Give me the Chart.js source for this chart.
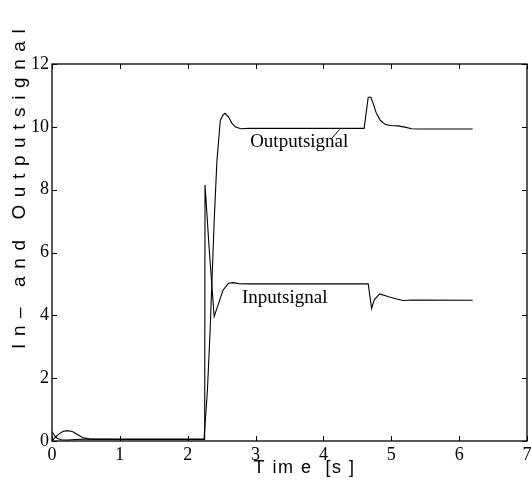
<!DOCTYPE html>
<html>
<head>
<meta charset="utf-8">
<script src="https://cdn.jsdelivr.net/npm/chart.js@4/dist/chart.umd.min.js"></script>
<style>
  html, body { margin: 0; padding: 0; background: #fff; }
  canvas { display: block; }
</style>
</head>
<body>
<canvas id="c" width="531" height="484"></canvas>
<script>
// ---- data ----
const inputTime  = [0, 0.04, 0.08, 0.14, 0.22, 0.35, 0.5, 1.0, 2.0, 2.25, 2.255, 2.32, 2.39, 2.45, 2.52, 2.60, 2.67, 2.75, 2.9, 3.5, 4.66, 4.685, 4.71, 4.75, 4.83, 4.96, 5.08, 5.18, 5.3, 6.2];
const inputValue = [0.30, 0.16, 0.08, 0.04, 0.03, 0.05, 0.06, 0.06, 0.06, 0.06, 8.15, 6.0, 3.96, 4.35, 4.8, 5.02, 5.04, 5.01, 5.0, 5.0, 5.0, 4.6, 4.22, 4.5, 4.68, 4.59, 4.52, 4.47, 4.49, 4.48];

const outputTime  = [0, 0.05, 0.1, 0.16, 0.22, 0.3, 0.38, 0.45, 0.55, 1.0, 2.0, 2.24, 2.29, 2.33, 2.39, 2.43, 2.48, 2.52, 2.55, 2.6, 2.65, 2.7, 2.78, 2.9, 4.6, 4.66, 4.7, 4.74, 4.78, 4.84, 4.91, 4.98, 5.1, 5.2, 5.3, 5.4, 6.2];
const outputValue = [0.0, 0.12, 0.22, 0.30, 0.33, 0.30, 0.20, 0.11, 0.06, 0.05, 0.05, 0.05, 1.6, 3.5, 7.0, 8.9, 10.2, 10.38, 10.43, 10.32, 10.12, 10.0, 9.94, 9.95, 9.95, 10.94, 10.94, 10.7, 10.43, 10.2, 10.08, 10.04, 10.03, 9.99, 9.94, 9.93, 9.93];

const xTicks = [0, 1, 2, 3, 4, 5, 6, 7];
const yTicks = [0, 2, 4, 6, 8, 10, 12];

const xTitle = "T im e  [s ]";
const yTitle = "In\u2013 and Outputsignal";
const labels = [
  { text: "Outputsignal", t: 2.92, v: 9.37, lead: [4.12, 9.63, 4.24, 9.92] },
  { text: "Inputsignal",  t: 2.80, v: 4.40, lead: null }
];

const toPts = (ts, vs) => ts.map((t, i) => ({ x: t, y: vs[i] }));

const frame = {
  id: 'frame',
  afterDraw(chart) {
    const { ctx, chartArea: a, scales: { x, y } } = chart;
    ctx.save();
    ctx.strokeStyle = '#000';
    ctx.lineWidth = 1.3;
    ctx.strokeRect(a.left, a.top, a.right - a.left, a.bottom - a.top);
    ctx.lineWidth = 1;
    const L = 5;
    ctx.beginPath();
    xTicks.forEach(v => {
      const px = Math.round(x.getPixelForValue(v)) + 0.5;
      ctx.moveTo(px, a.bottom); ctx.lineTo(px, a.bottom - L);
      ctx.moveTo(px, a.top); ctx.lineTo(px, a.top + L);
    });
    yTicks.forEach(v => {
      const py = Math.round(y.getPixelForValue(v)) + 0.5;
      ctx.moveTo(a.left, py); ctx.lineTo(a.left + L, py);
      ctx.moveTo(a.right, py); ctx.lineTo(a.right - L, py);
    });
    ctx.stroke();

    // annotations
    ctx.fillStyle = '#000';
    ctx.font = '19px "Liberation Serif", "Times New Roman", serif';
    ctx.textAlign = 'left';
    ctx.textBaseline = 'alphabetic';
    labels.forEach(l => {
      ctx.fillText(l.text, x.getPixelForValue(l.t), y.getPixelForValue(l.v));
      if (l.lead) {
        ctx.beginPath();
        ctx.moveTo(x.getPixelForValue(l.lead[0]), y.getPixelForValue(l.lead[1]));
        ctx.lineTo(x.getPixelForValue(l.lead[2]), y.getPixelForValue(l.lead[3]));
        ctx.stroke();
      }
    });

    // axis titles
    ctx.font = '18px "Liberation Sans", Arial, sans-serif';
    ctx.letterSpacing = '1.5px';
    ctx.textAlign = 'center';
    ctx.textBaseline = 'alphabetic';
    ctx.fillText(xTitle, x.getPixelForValue(3.72), 473);
    ctx.font = '19px "Liberation Sans", Arial, sans-serif';
    ctx.letterSpacing = '7.6px';
    ctx.translate(25, 349);
    ctx.rotate(-Math.PI / 2);
    ctx.textAlign = 'left';
    ctx.fillText(yTitle, 0, 0);
    ctx.restore();
  }
};

new Chart(document.getElementById('c'), {
  type: 'scatter',
  data: {
    datasets: [
      { label: 'Inputsignal', data: toPts(inputTime, inputValue), showLine: true, borderColor: '#000', borderWidth: 1.1, pointRadius: 0, tension: 0, fill: false },
      { label: 'Outputsignal', data: toPts(outputTime, outputValue), showLine: true, borderColor: '#000', borderWidth: 1.1, pointRadius: 0, tension: 0, fill: false }
    ]
  },
  options: {
    responsive: false,
    animation: false,
    devicePixelRatio: 1,
    layout: { padding: { left: 0, right: 0, top: 64, bottom: 0 } },
    plugins: { legend: { display: false }, tooltip: { enabled: false } },
    scales: {
      x: {
        type: 'linear', min: 0, max: 7,
        afterBuildTicks: s => { s.ticks = xTicks.map(v => ({ value: v })); },
        afterFit: s => { s.height = 43; s.paddingRight = 4; s.paddingLeft = 0; },
        grid: { display: false, drawTicks: false }, border: { display: false },
        ticks: { color: '#000', padding: 3, maxRotation: 0, font: { family: '"Liberation Serif", serif', size: 18 } }
      },
      y: {
        type: 'linear', min: 0, max: 12,
        afterBuildTicks: s => { s.ticks = yTicks.map(v => ({ value: v })); },
        afterFit: s => { s.width = 52; s.paddingTop = 0; s.paddingBottom = 0; },
        grid: { display: false, drawTicks: false }, border: { display: false },
        ticks: { color: '#000', padding: 3, font: { family: '"Liberation Serif", serif', size: 18 } }
      }
    }
  },
  plugins: [frame]
});
</script>
</body>
</html>
